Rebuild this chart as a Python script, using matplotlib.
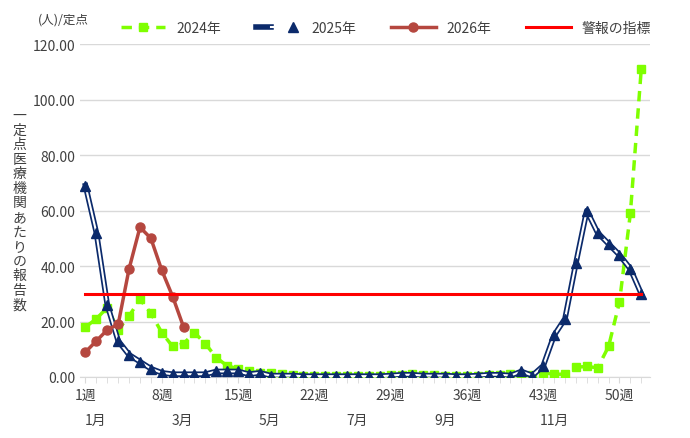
import numpy as np
import matplotlib.pyplot as plt
import matplotlib.transforms as mtransforms
from matplotlib.legend_handler import HandlerTuple

plt.rcParams['font.family'] = ['Noto Sans CJK JP', 'DejaVu Sans']

weeks = np.arange(1, 53)
y2024 = [18, 21, 25, 17, 22, 28, 23, 16, 11, 12, 16, 12, 7, 4, 3, 2, 1.5, 1.5, 1, 0.6,
         0.5, 0.5, 0.5, 0.5, 0.5, 0.5, 0.5, 0.5, 0.6, 0.8, 1, 0.8, 0.6, 0.5, 0.5, 0.5,
         0.5, 0.6, 0.8, 1, 0.8, 0.8, 1.5, 1, 1, 3.5, 3.8, 3.3, 11, 27, 59, 111]
y2025 = [69, 52, 26, 13, 8, 5.5, 3, 1.5, 1, 1, 1, 1, 2, 2, 2, 1, 1.5, 0.5, 0.5, 0.5,
         0.3, 0.3, 0.3, 0.3, 0.3, 0.3, 0.3, 0.3, 0.5, 0.8, 0.8, 0.5, 0.5, 0.5, 0.3, 0.3,
         0.5, 0.8, 0.8, 0.5, 2, 0.5, 4, 15, 21, 41, 60, 52, 48, 44, 39, 30]
weeks2026 = np.arange(1, 11)
y2026 = [9, 13, 17, 19, 39, 54, 50, 38.5, 29, 18]
alert = 30
week_ticks = [1, 8, 15, 22, 29, 36, 43, 50]
month_pos = [1.9, 9.9, 17.9, 25.9, 34, 44]
month_labels = ['1月', '3月', '5月', '7月', '9月', '11月']

fig = plt.figure(figsize=(6.9, 4.39), dpi=100)
ax = fig.add_axes([0.116, 0.139, 0.826, 0.758])

h24, = ax.plot(weeks, y2024, color='#7fff00', lw=2.5, ls=(0, (3, 2)), marker='s', ms=6,
               zorder=3)
h25a, = ax.plot(weeks, y2025, color='#0b2a6b', lw=4, zorder=4)
h25b, = ax.plot(weeks, y2025, color='white', lw=1.5, zorder=4.1)
h25c, = ax.plot(weeks, y2025, color='#0b2a6b', lw=0, marker='^', ms=6.5, zorder=4.2)
h26, = ax.plot(weeks2026, y2026, color='#b5473f', lw=2.5, marker='o', ms=6.5, zorder=5)
hal, = ax.plot([1, 52], [alert, alert], color='#ff0000', lw=2.2, zorder=6)

ax.set_xlim(0.5, 52.8)
ax.set_ylim(0, 120)
ax.set_yticks(np.arange(0, 121, 20))
ax.set_yticklabels([f'{v:.2f}' for v in np.arange(0, 121, 20)], fontsize=10, color='#404040')
ax.set_xticks(week_ticks)
ax.set_xticklabels([f'{w}週' for w in week_ticks], fontsize=10, color='#404040')
ax.set_xticks(weeks, minor=True)
ax.tick_params(axis='x', which='both', length=4, color='#d9d9d9')
ax.tick_params(axis='y', length=0)
ax.grid(axis='y', color='#d9d9d9', lw=1)
ax.set_axisbelow(True)
for s in ['top', 'right', 'left']:
    ax.spines[s].set_visible(False)
ax.spines['bottom'].set_color('#d9d9d9')

trans = mtransforms.blended_transform_factory(ax.transData, ax.transAxes)
for p, lab in zip(month_pos, month_labels):
    ax.text(p, -0.13, lab, transform=trans, ha='center', va='center', fontsize=10, color='#404040')

fig.text(0.028, 0.52, '\n'.join('一定点医療機関あたりの報告数'), ha='center', va='center',
         fontsize=10, color='#404040', linespacing=1.05)
fig.text(0.055, 0.955, '(人)/定点', fontsize=9, color='#404040', va='center')

ax.legend([h24, (h25a, h25b, h25c), h26, hal], ['2024年', '2025年', '2026年', '警報の指標'],
          handler_map={tuple: HandlerTuple(ndivide=None, pad=0)},
          loc='lower left', bbox_to_anchor=(0.05, 0.99), ncol=4, frameon=False,
          fontsize=10, handlelength=3.2, columnspacing=2.5, labelcolor='#404040')

fig.savefig('out.png', dpi=100)
